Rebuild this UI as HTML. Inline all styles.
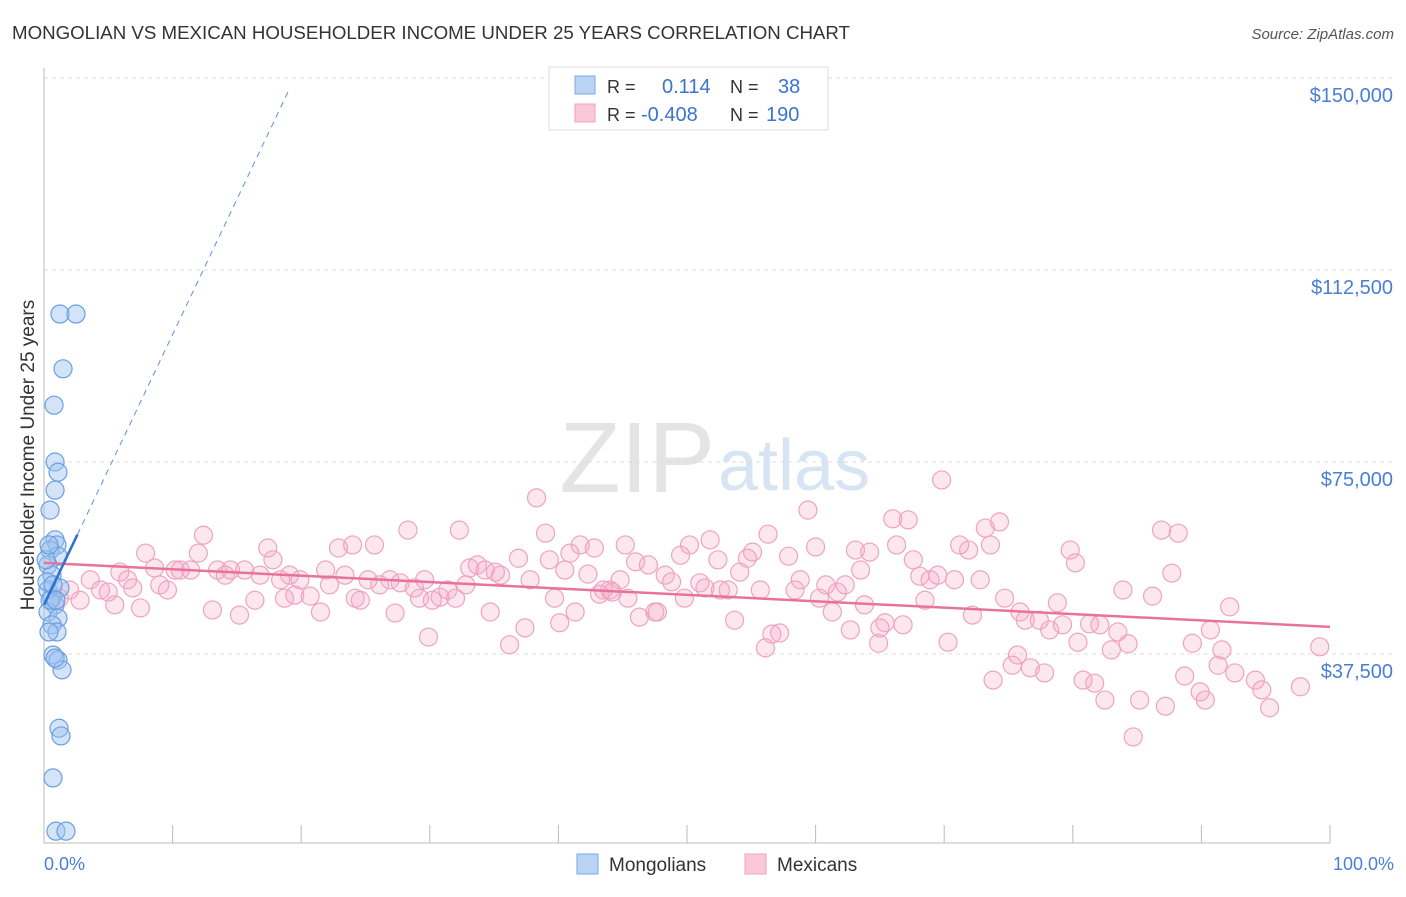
<!DOCTYPE html>
<html><head><meta charset="utf-8"><style>
body{margin:0;background:#fff;font-family:"Liberation Sans",sans-serif}
svg text{font-family:"Liberation Sans",sans-serif}
</style></head><body>
<svg id="c" width="1406" height="892">
<text x="12" y="39" font-size="18.7" fill="#333">MONGOLIAN VS MEXICAN HOUSEHOLDER INCOME UNDER 25 YEARS CORRELATION CHART</text>
<text x="1394" y="39" font-size="15" fill="#555" text-anchor="end" font-style="italic">Source: ZipAtlas.com</text>
<text x="715" y="492" font-size="100" fill="#e4e4e4" text-anchor="end" font-family="Liberation Serif">ZIP</text>
<text x="718" y="490" font-size="72" fill="#d6e4f3">atlas</text>
<g id="grid"></g><g id="pts"></g><g id="lines"></g>
<text x="34" y="455" font-size="19" fill="#333" text-anchor="middle" transform="rotate(-90 34 455)">Householder Income Under 25 years</text>
<text x="44" y="870" font-size="18" fill="#4a7fd4">0.0%</text>
<text x="1394" y="870" font-size="18" fill="#4a7fd4" text-anchor="end">100.0%</text>
<g>
<rect x="549" y="67" width="279" height="63" fill="#fff" stroke="#ddd"/>
<rect x="575" y="76" width="20" height="18" fill="#b9d3f5" stroke="#7aa8e6"/>
<rect x="575" y="104" width="20" height="18" fill="#fbc8d8" stroke="#f0a0bb"/>
<text x="607" y="93" font-size="18" fill="#333">R =</text><text x="662" y="93" font-size="20" fill="#3a74d0">0.114</text>
<text x="730" y="93" font-size="18" fill="#333">N =</text><text x="778" y="93" font-size="20" fill="#3a74d0">38</text>
<text x="607" y="121" font-size="18" fill="#333">R =</text><text x="641" y="121" font-size="20" fill="#3a74d0">-0.408</text>
<text x="730" y="121" font-size="18" fill="#333">N =</text><text x="766" y="121" font-size="20" fill="#3a74d0">190</text>
</g>
<g>
<rect x="577" y="854" width="21" height="20" fill="#b9d3f5" stroke="#7aa8e6"/>
<text x="609" y="871" font-size="19" fill="#333">Mongolians</text>
<rect x="745" y="854" width="21" height="20" fill="#fbc8d8" stroke="#f0a0bb"/>
<text x="777" y="871" font-size="19" fill="#333">Mexicans</text>
</g>
</svg>
<script>
const yTicks=[37500,75000,112500,150000];
const yTickLabels=["$37,500","$75,000","$112,500","$150,000"];
const mongPct=[1.24,2.49,1.48,0.78,0.86,1.09,0.86,0.47,0.86,1.01,0.47,1.09,0.31,0.62,0.31,1.24,0.62,0.86,0.31,1.09,0.62,1.01,0.39,0.70,1.09,1.40,0.86,1.17,1.32,0.70,0.93,1.71,0.23,0.47,0.70,0.16,0.39,0.93];
const mongVal=[103.9,103.9,93.2,86.1,75.0,73.0,69.5,65.6,59.8,58.8,57.8,56.6,54.9,52.9,50.0,50.4,48.4,47.1,45.7,44.5,43.2,41.8,41.8,37.3,36.3,34.4,36.7,23.0,21.5,13.3,2.9,2.9,51.6,48.0,51.0,55.9,58.8,48.0];
const mexPct=[1.2,2.0,2.8,3.6,4.4,5.0,5.5,5.9,6.5,6.9,7.5,7.9,8.6,9.0,9.6,10.2,10.6,11.4,12.0,12.4,13.1,13.5,14.1,14.5,15.2,15.6,16.4,16.8,17.4,17.8,18.4,18.7,19.1,19.5,19.9,20.7,21.5,21.9,22.2,22.9,23.4,24.0,24.2,24.6,25.2,25.7,26.1,26.9,27.3,27.7,28.3,28.8,29.2,29.6,29.9,30.2,30.8,31.4,32.0,32.3,32.8,33.1,33.7,34.3,34.7,35.1,35.5,36.2,36.9,37.4,37.8,38.3,39.0,39.3,39.7,40.1,40.5,40.9,41.3,41.7,42.3,42.8,43.2,43.5,44.0,44.2,44.8,45.2,45.4,46.0,46.3,47.0,47.5,47.7,48.3,48.8,49.5,49.8,50.2,51.0,51.4,51.8,52.4,52.6,53.2,53.7,54.1,54.7,55.1,55.7,56.1,56.3,56.6,57.2,57.9,58.4,58.8,59.4,60.0,60.3,60.8,61.3,61.7,62.3,62.7,63.1,63.5,63.8,64.2,64.9,65.0,65.4,66.0,66.3,66.8,67.2,67.6,68.1,68.5,68.9,69.5,69.8,70.3,70.8,71.2,71.9,72.2,72.8,73.2,73.6,73.8,74.3,74.7,75.3,75.7,75.9,76.3,76.7,77.4,77.8,78.2,78.8,79.2,79.8,80.2,80.4,80.8,81.3,81.7,82.1,82.5,83.0,83.5,83.9,84.3,84.7,85.2,86.2,86.9,87.2,87.7,88.2,88.7,89.3,89.9,90.3,90.7,91.3,91.6,92.2,92.6,94.2,94.7,95.3,97.7,99.2];
const mexVal=[48.4,50.0,48.0,52.0,50.0,49.6,47.1,53.5,52.0,50.4,46.5,57.2,54.3,51.0,50.0,53.9,53.9,53.9,57.2,60.7,46.1,53.9,52.9,53.9,45.1,53.9,48.0,52.9,58.2,55.9,52.0,48.4,52.9,49.0,52.0,48.8,45.7,53.9,51.0,58.2,52.9,58.8,48.4,48.0,52.0,58.8,51.0,52.0,45.5,51.4,61.7,50.4,48.4,52.0,40.8,48.0,48.6,50.0,48.4,61.7,51.0,54.3,54.9,53.9,45.7,53.5,52.9,39.3,56.2,42.6,52.0,68.0,61.1,55.9,48.4,43.6,53.9,57.2,45.7,58.8,53.1,58.2,49.2,50.0,50.0,49.6,52.0,58.8,48.4,55.5,44.7,54.9,45.7,45.7,52.9,51.6,56.8,48.4,58.8,51.4,50.4,59.8,55.9,50.0,50.0,44.1,53.5,56.2,57.4,50.0,38.7,60.9,41.4,41.6,56.6,50.0,52.0,65.6,58.4,48.4,51.0,45.7,49.6,51.0,42.2,57.8,53.9,47.1,57.4,39.6,42.6,43.6,63.9,58.8,43.2,63.7,55.9,52.7,48.0,52.0,52.9,71.5,39.8,52.0,58.8,57.8,45.1,52.0,62.1,58.8,32.4,63.3,48.4,35.3,37.3,45.7,44.1,34.8,44.1,33.8,42.2,47.5,43.2,57.8,55.3,39.8,32.4,43.4,31.8,43.2,28.5,38.3,41.8,50.0,39.5,21.3,28.5,48.8,61.7,27.3,53.3,61.1,33.2,39.6,30.1,28.5,42.2,35.3,38.3,46.7,33.8,32.4,30.5,27.0,31.1,38.9];
const mexTrend=[55.3,42.8];
const mongTrend=[47.1,5.28];
const NS="http://www.w3.org/2000/svg";
const X0=44,X1=1330,YB=846,YT=78;
const xS=p=>X0+(X1-X0)*p/100;
const yS=v=>YB-(YB-YT)*v/150000;
function mk(t,a,parent){const e=document.createElementNS(NS,t);for(const k in a)e.setAttribute(k,a[k]);document.getElementById(parent).appendChild(e);return e;}
yTicks.forEach((v,i)=>{
 const g=mk('line',{x1:44,x2:1394,y1:yS(v),y2:yS(v),stroke:'#ddd','stroke-dasharray':'4 4'},'grid');
 
 
 const t=mk('text',{x:1393,y:yS(v)+24,'font-size':20,fill:'#4a7fd4','text-anchor':'end'},'grid');
 t.textContent=yTickLabels[i];
 
 
});
const ax=mk('line',{x1:44,x2:44,y1:68,y2:843,stroke:'#bbb'},'grid');


const bx=mk('line',{x1:44,x2:1330,y1:843,y2:843,stroke:'#bbb'},'grid');


for(let i=1;i<=10;i++){const tk=mk('line',{x1:xS(i*10),x2:xS(i*10),y1:825,y2:843,stroke:'#bbb'},'grid');
 
 }
mexPct.forEach((p,i)=>{const c=mk('circle',{cx:xS(p),cy:yS(mexVal[i]*1000),r:9,fill:'rgba(246,170,196,0.28)',stroke:'#f0a3bd','stroke-width':1.2},'pts');
 
 });
mongPct.forEach((p,i)=>{const c=mk('circle',{cx:xS(p),cy:yS(mongVal[i]*1000),r:9,fill:'rgba(160,195,240,0.45)',stroke:'#6a9fe0','stroke-width':1.2},'pts');
 
 });
const pl=mk('line',{x1:xS(0),y1:yS(mexTrend[0]*1000),x2:xS(100),y2:yS(mexTrend[1]*1000),stroke:'#e8739a','stroke-width':2.5},'lines');


const mv=p=>(mongTrend[0]+mongTrend[1]*p)*1000;
const bl=mk('line',{x1:xS(0),y1:yS(mv(0)),x2:xS(2.6),y2:yS(mv(2.6)),stroke:'#2f6fd6','stroke-width':2.5},'lines');


const bd=mk('line',{x1:xS(2.6),y1:yS(mv(2.6)),x2:xS(19.1),y2:yS(mv(19.1)),stroke:'#5b8fe0','stroke-width':1,'stroke-dasharray':'6 5'},'lines');


</script>
</body></html>
